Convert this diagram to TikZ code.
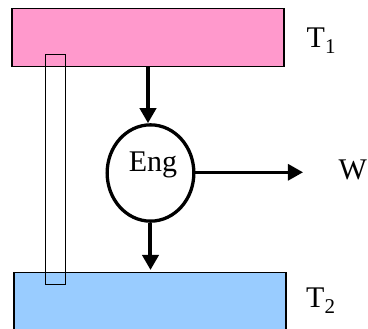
\documentclass[tikz,border=0pt]{standalone}
\usepackage{fontspec}
\setmainfont{Liberation Serif}
\usetikzlibrary{shapes.geometric,arrows.meta}
\definecolor{hotpink}{HTML}{FF99CC}
\definecolor{coldblue}{HTML}{99CCFF}
\tikzset{
  reservoir/.style={draw, line width=1.3pt, rectangle, inner sep=0pt},
  lbl/.style={inner sep=0pt, font=\fontsize{30}{30}\selectfont},
  flow/.style={line width=4pt, -{Triangle[length=15pt,width=16pt]}},
  work/.style={line width=3pt, -{Triangle[length=15pt,width=16pt]}},
}
\newcommand{\subdigit}[1]{\raisebox{-6pt}{\fontsize{21}{21}\selectfont #1}}
\begin{document}
\begin{tikzpicture}[x=1pt,y=-1pt]
\useasboundingbox (0,0) rectangle (368,329);
\clip (0,0) rectangle (368,329);
\node[reservoir, fill=hotpink, minimum width=272pt, minimum height=58.4pt] (hot) at (148,37.5) {};
\node[reservoir, fill=coldblue, minimum width=272pt, minimum height=67.3pt] (cold) at (150,306.3) {};
\node[draw, line width=1pt, rectangle, inner sep=0pt, minimum width=19.6pt, minimum height=230.7pt] (tube) at (55.5,169.6) {};
\node[draw, ellipse, line width=3.3pt, inner sep=0pt, minimum width=86.7pt, minimum height=96.3pt] (eng) at (150.5,173) {};
\node[lbl, anchor=base] (englbl) at (153,172) {Eng};
\coordinate (wtip) at (303,172.3);
\node[lbl, anchor=base west] (w) at (338.5,179.5) {W};
\node[lbl, anchor=base west] (t1) at (306.5,47.5) {T\subdigit{1}};
\node[lbl, anchor=base west] (t2) at (306,307.5) {T\subdigit{2}};
\draw[flow] (hot.south -| 148,0) -- (148,0 |- eng.north);
\draw[flow, shorten >=2pt] (eng.south) -- (cold.north -| eng.south);
\draw[work] (eng.east |- wtip) -- (wtip);
\end{tikzpicture}
\end{document}
